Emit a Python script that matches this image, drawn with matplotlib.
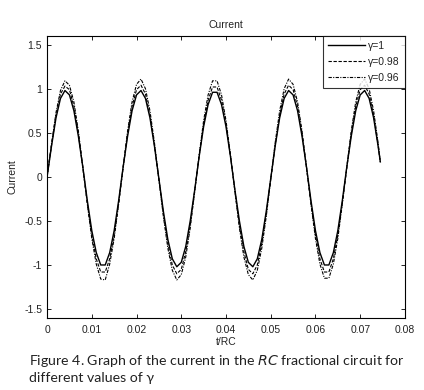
import numpy as np
import matplotlib
matplotlib.use('Agg')
import matplotlib.pyplot as plt

# sample grid (t/RC), one reading every 0.001 plus the end point
t = np.append(np.arange(75) * 0.001, 0.0745)

# currents
i_g100 = [0.00, 0.35, 0.67, 0.89, 0.98, 0.93, 0.75, 0.46, 0.11, -0.27,
          -0.61, -0.86, -1.00, -1.00, -0.86, -0.61, -0.27, 0.11, 0.46, 0.75,
          0.93, 0.98, 0.89, 0.67, 0.35, -0.02, -0.39, -0.71, -0.93, -1.02,
          -0.97, -0.79, -0.50, -0.15, 0.23, 0.57, 0.82, 0.96, 0.96, 0.82,
          0.57, 0.23, -0.15, -0.50, -0.79, -0.97, -1.02, -0.93, -0.71, -0.39,
          -0.02, 0.35, 0.67, 0.89, 0.98, 0.93, 0.75, 0.46, 0.11, -0.27,
          -0.61, -0.86, -1.00, -1.00, -0.86, -0.61, -0.27, 0.11, 0.46, 0.75,
          0.93, 0.98, 0.89, 0.67, 0.35, 0.17]
i_g098 = [0.00, 0.36, 0.70, 0.94, 1.03, 0.99, 0.80, 0.49, 0.10, -0.30,
          -0.66, -0.93, -1.08, -1.08, -0.93, -0.66, -0.30, 0.10, 0.49, 0.80,
          0.99, 1.04, 0.94, 0.70, 0.36, -0.03, -0.42, -0.76, -1.00, -1.10,
          -1.05, -0.85, -0.55, -0.16, 0.24, 0.60, 0.87, 1.02, 1.02, 0.87,
          0.60, 0.24, -0.16, -0.55, -0.85, -1.05, -1.10, -1.00, -0.76, -0.42,
          -0.03, 0.36, 0.70, 0.94, 1.04, 0.99, 0.80, 0.49, 0.10, -0.30,
          -0.66, -0.93, -1.08, -1.08, -0.93, -0.66, -0.30, 0.10, 0.49, 0.80,
          0.99, 1.04, 0.94, 0.70, 0.36, 0.17]
i_g096 = [0.00, 0.38, 0.73, 0.98, 1.09, 1.04, 0.85, 0.52, 0.11, -0.31,
          -0.70, -0.99, -1.16, -1.17, -0.99, -0.70, -0.31, 0.11, 0.52, 0.85,
          1.05, 1.11, 1.00, 0.75, 0.39, -0.03, -0.45, -0.81, -1.06, -1.17,
          -1.11, -0.91, -0.58, -0.17, 0.25, 0.64, 0.93, 1.09, 1.09, 0.93,
          0.64, 0.25, -0.17, -0.58, -0.91, -1.11, -1.17, -1.06, -0.81, -0.45,
          -0.03, 0.39, 0.75, 1.00, 1.11, 1.05, 0.85, 0.52, 0.11, -0.31,
          -0.70, -0.99, -1.15, -1.15, -0.99, -0.70, -0.31, 0.11, 0.52, 0.85,
          1.05, 1.11, 1.00, 0.75, 0.39, 0.17]

labels = ['\u03b3=1', '\u03b3=0.98', '\u03b3=0.96']
xticks = [0, 0.01, 0.02, 0.03, 0.04, 0.05, 0.06, 0.07, 0.08]
yticks = [-1.5, -1, -0.5, 0, 0.5, 1, 1.5]

plt.rcParams['font.family'] = ['Liberation Sans', 'DejaVu Sans']

fig = plt.figure(figsize=(4.24, 3.9), dpi=100)
ax = fig.add_axes([0.111, 0.185, 0.844, 0.723])

ax.plot(t, i_g100, color='black', lw=1.0, ls='-', label=labels[0])
ax.plot(t, i_g098, color='black', lw=0.8, ls=(0, (3, 1.5)), label=labels[1])
ax.plot(t, i_g096, color='black', lw=0.8, ls=(0, (3, 1.2, 1, 1.2)), label=labels[2])

ax.set_xlim(0, 0.08)
ax.set_ylim(-1.6, 1.6)
ax.set_xticks(xticks)
ax.set_xticklabels(['0' if v == 0 else f'{v:g}' for v in xticks])
ax.set_yticks(yticks)
ax.set_yticklabels([f'{v:g}' for v in yticks])
ax.tick_params(direction='in', top=True, right=True, labelsize=7.5, length=3,
               width=0.7, colors='#222222')
ax.tick_params(axis='x', pad=5)
for sp in ax.spines.values():
    sp.set_linewidth(0.8)

ax.set_title('Current', fontsize=7.5, pad=6, color='#222222')
ax.set_xlabel('t/RC', fontsize=7.5, va='center', color='#222222')
ax.xaxis.set_label_coords(0.5, -0.087)
ax.set_ylabel('Current', fontsize=7.5, labelpad=5, color='#222222')

leg = ax.legend(loc='upper right', fontsize=7.5, frameon=True, fancybox=False,
                borderaxespad=0, handlelength=3.6, handletextpad=0.25,
                labelspacing=0.55, borderpad=0.5)
leg.get_frame().set_edgecolor('black')
leg.get_frame().set_linewidth(0.8)
for txt in leg.get_texts():
    txt.set_color('#222222')

fig.text(0.068, 0.074, 'Figure 4. Graph of the current in the $\\mathit{RC}$ fractional circuit for',
         fontsize=10.2, va='center', family=['Lato', 'DejaVu Sans'], color='#222222')
fig.text(0.068, 0.031, 'different values of \u03b3',
         fontsize=10.2, va='center', family=['Lato', 'DejaVu Sans'], color='#222222')

fig.savefig('out.png', dpi=100)
